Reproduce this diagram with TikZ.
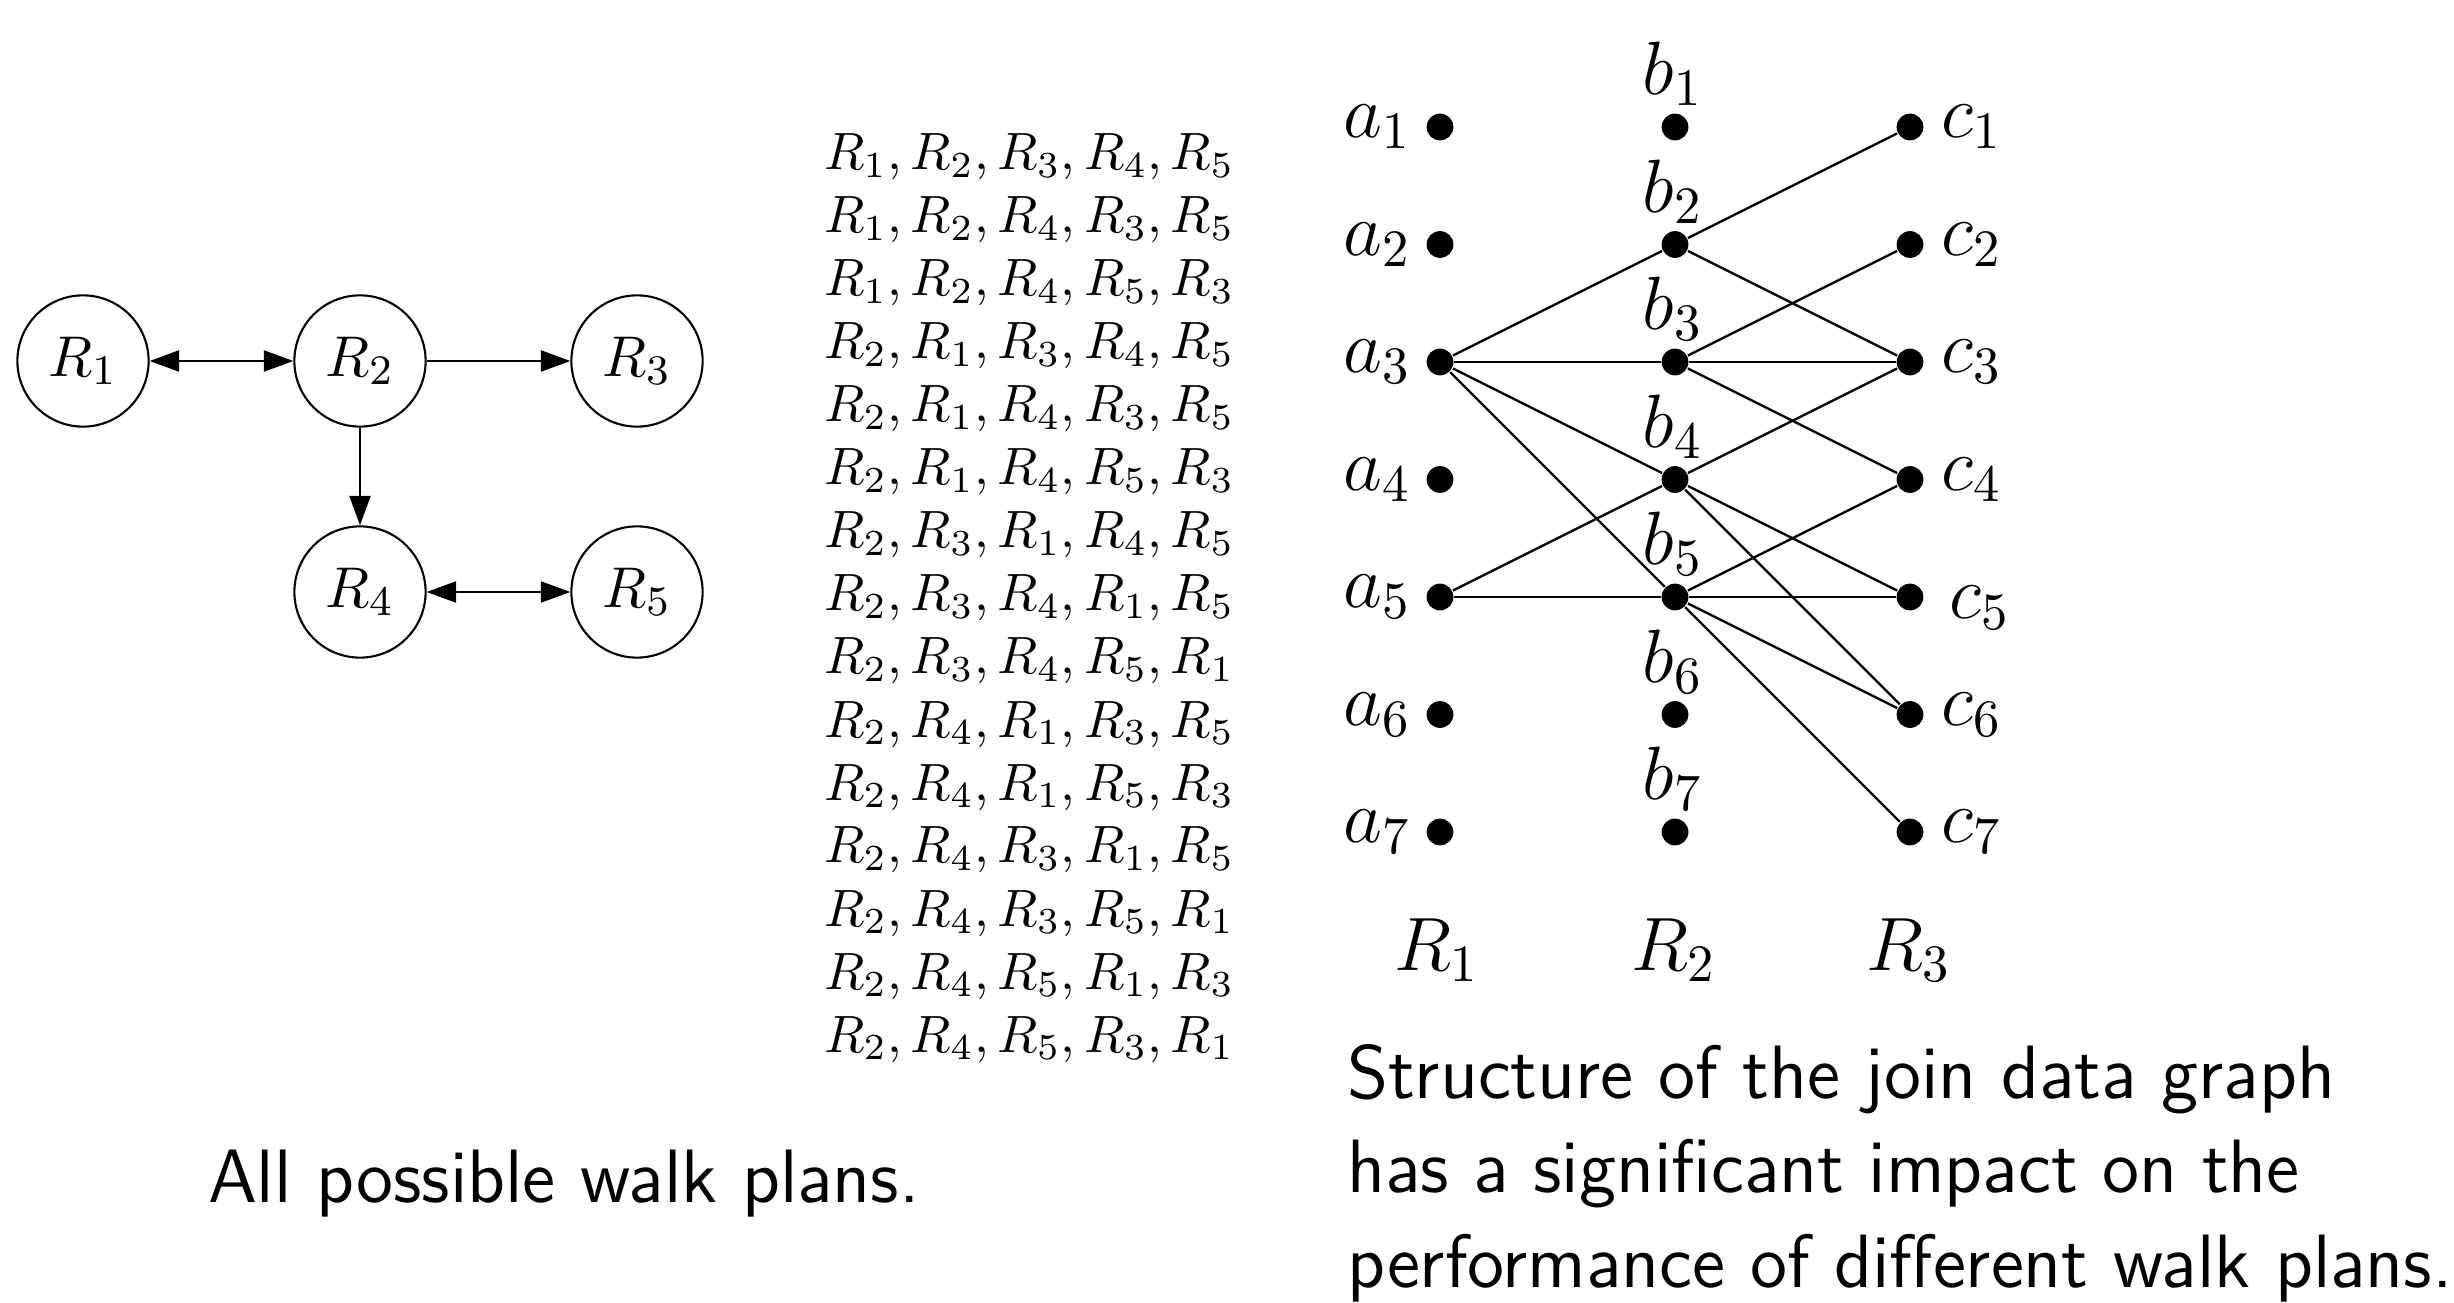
\documentclass[tikz,border=0pt]{standalone}
\usetikzlibrary{arrows.meta}
\begin{document}
\begin{tikzpicture}[x=0.190476pt, y=-0.190476pt,
  rel/.style={circle, draw, line width=0.4pt, minimum size=25pt, inner sep=0pt, font=\fontsize{11}{13}\selectfont},
  tipone/.style={line width=0.4pt, -{Triangle[length=5.6pt,width=4pt]}},
  tiptwo/.style={line width=0.4pt, {Triangle[length=5.6pt,width=4pt]}-{Triangle[length=5.6pt,width=4pt]}},
  dot/.style={circle, fill, inner sep=0pt, minimum size=5.1pt},
  lab/.style={inner sep=0pt, font=\fontsize{14.4}{18}\selectfont},
  rowtxt/.style={anchor=base west, inner sep=0pt, font=\fontsize{10}{12}\selectfont},
  captxt/.style={anchor=base west, inner sep=0pt, font=\fontsize{14.4}{18}\sffamily\selectfont},
  edge/.style={line width=0.45pt}]
\useasboundingbox (0,0) rectangle (2454,1303);

% left graph
\node[rel] (r1) at (83,361) {$R_1$};
\node[rel] (r2) at (360,361) {$R_2$};
\node[rel] (r3) at (637,361) {$R_3$};
\node[rel] (r4) at (360,592) {$R_4$};
\node[rel] (r5) at (637,592) {$R_5$};
\draw[tiptwo] (r1) -- (r2);
\draw[tipone] (r2) -- (r3);
\draw[tipone] (r2) -- (r4);
\draw[tiptwo] (r4) -- (r5);

% list of walk plans
\foreach \p/\q/\r/\s/\u [count=\i] in {1/2/3/4/5, 1/2/4/3/5, 1/2/4/5/3, 2/1/3/4/5, 2/1/4/3/5, 2/1/4/5/3, 2/3/1/4/5, 2/3/4/1/5, 2/3/4/5/1, 2/4/1/3/5, 2/4/1/5/3, 2/4/3/1/5, 2/4/3/5/1, 2/4/5/1/3, 2/4/5/3/1}
  \node[rowtxt] (w\i) at (823,{170+63*(\i-1)}) {$R_{\p}, R_{\q}, R_{\r}, R_{\s}, R_{\u}$};

% right graph: dots and labels
\foreach \i in {1,...,7} {
  \node[dot] (a\i) at (1440,{127+117.5*(\i-1)}) {};
  \node[dot] (b\i) at (1675,{127+117.5*(\i-1)}) {};
  \node[dot] (c\i) at (1910,{127+117.5*(\i-1)}) {};
  \node[lab, anchor=east] (la\i) at ([xshift=-2.5pt]a\i.west) {$a_{\i}$};
  \node[lab] (lb\i) at (1673,{127+117.5*(\i-1)-53}) {$b_{\i}$};
}
\foreach \i in {1,2,3,4,6,7}
  \node[lab, anchor=west] (lc\i) at ([xshift=3pt]c\i.east) {$c_{\i}$};
\node[lab, anchor=west] (lc5) at ([xshift=4.5pt,yshift=-2pt]c5.east) {$c_{5}$};

\node[lab, anchor=base] (lr1) at (1437,970) {$R_1$};
\node[lab, anchor=base] (lr2) at (1674,970) {$R_2$};
\node[lab, anchor=base] (lr3) at (1909,970) {$R_3$};

% edges
\draw[edge] (a3) -- (b2);
\draw[edge] (a3) -- (b3);
\draw[edge] (a3) -- (b4);
\draw[edge] (a3) -- (b5);
\draw[edge] (a5) -- (b4);
\draw[edge] (a5) -- (b5);
\draw[edge] (b2) -- (c1);
\draw[edge] (b2) -- (c3);
\draw[edge] (b3) -- (c2);
\draw[edge] (b3) -- (c3);
\draw[edge] (b3) -- (c4);
\draw[edge] (b4) -- (c3);
\draw[edge] (b4) -- (c5);
\draw[edge] (b4) -- (c6);
\draw[edge] (b5) -- (c4);
\draw[edge] (b5) -- (c5);
\draw[edge] (b5) -- (c6);
\draw[edge] (b5) -- (c7);

% captions
\node[captxt] (capl) at (207,1202) {All possible walk plans.};
\node[captxt] (capr1) at (1346,1098) {Structure of the join data graph};
\node[captxt] (capr2) at (1346,1192) {has a significant impact on the};
\node[captxt] (capr3) at (1346,1287) {performance of different walk plans.};
\end{tikzpicture}
\end{document}
